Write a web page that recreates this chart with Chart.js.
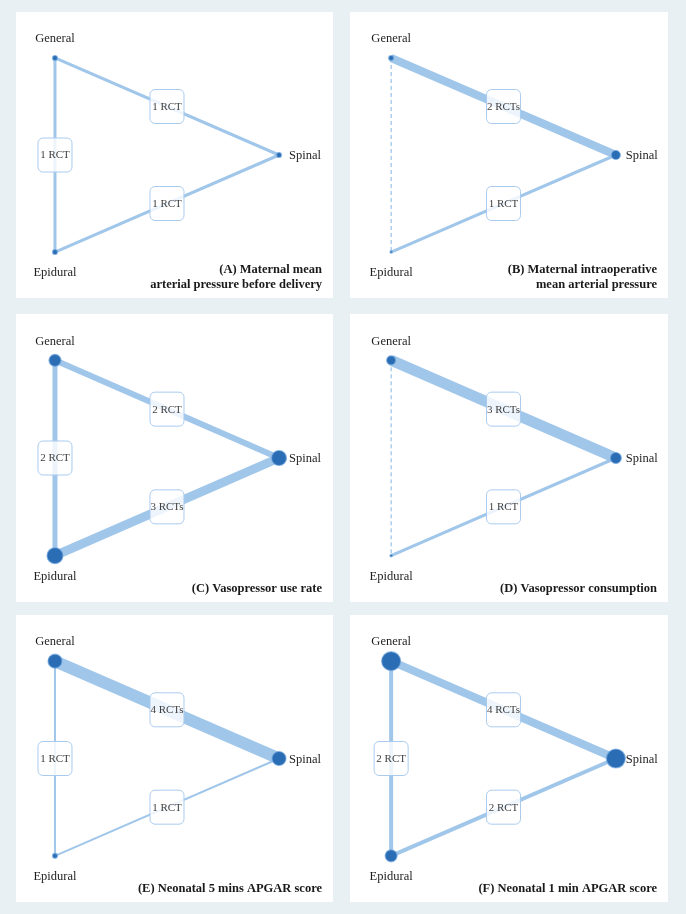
<!DOCTYPE html>
<html>
<head>
<meta charset="utf-8">
<script src="https://cdn.jsdelivr.net/npm/chart.js@4.4.1/dist/chart.umd.min.js"></script>
<style>
  html, body { margin: 0; padding: 0; }
  body { width: 686px; height: 914px; background: #e8f0f3; position: relative; overflow: hidden; }
  .panel { position: absolute; background: #fff; }
  .panel canvas { display: block; }
</style>
</head>
<body>
<div class="panel" style="left:16px;top:12px;"><canvas id="cA" width="317" height="286"></canvas></div>
<div class="panel" style="left:350px;top:12px;"><canvas id="cB" width="318" height="286"></canvas></div>
<div class="panel" style="left:16px;top:314px;"><canvas id="cC" width="317" height="288"></canvas></div>
<div class="panel" style="left:350px;top:314px;"><canvas id="cD" width="318" height="288"></canvas></div>
<div class="panel" style="left:16px;top:615px;"><canvas id="cE" width="317" height="287"></canvas></div>
<div class="panel" style="left:350px;top:615px;"><canvas id="cF" width="318" height="287"></canvas></div>
<script>
// treatments and comparisons (edges: General-Spinal, General-Epidural, Spinal-Epidural)
const nodes = ["General", "Spinal", "Epidural"];
const edges = [["General", "Spinal"], ["General", "Epidural"], ["Spinal", "Epidural"]];

// number of trials per comparison
const trialsA = [1, 1, 1];
const trialsB = [2, 0, 1];
const trialsC = [2, 2, 3];
const trialsD = [3, 0, 1];
const trialsE = [4, 1, 1];
const trialsF = [4, 2, 2];

// label shown on each comparison
const labelsA = ["1 RCT", "1 RCT", "1 RCT"];
const labelsB = ["2 RCTs", "", "1 RCT"];
const labelsC = ["2 RCT", "2 RCT", "3 RCTs"];
const labelsD = ["3 RCTs", "", "1 RCT"];
const labelsE = ["4 RCTs", "1 RCT", "1 RCT"];
const labelsF = ["4 RCTs", "2 RCT", "2 RCT"];

// edge weight (line thickness)
const edgeWeightA = [3, 3, 3];
const edgeWeightB = [8, 1, 3];
const edgeWeightC = [6, 5, 9];
const edgeWeightD = [11, 1, 3];
const edgeWeightE = [12, 2, 2];
const edgeWeightF = [8, 4, 4];

// node weight (General, Spinal, Epidural)
const nodeWeightA = [2.5, 2.5, 2.5];
const nodeWeightB = [2.5, 4.5, 1.2];
const nodeWeightC = [6, 7.5, 8];
const nodeWeightD = [4.5, 5.5, 1.2];
const nodeWeightE = [7, 7, 2.5];
const nodeWeightF = [9.5, 9.5, 6];

const titleA = ["(A) Maternal mean", "arterial pressure before delivery"];
const titleB = ["(B) Maternal intraoperative", "mean arterial pressure"];
const titleC = ["(C) Vasopressor use rate"];
const titleD = ["(D) Vasopressor consumption"];
const titleE = ["(E) Neonatal 5 mins APGAR score"];
const titleF = ["(F) Neonatal 1 min APGAR score"];

// network layout (triangle)
const layout = { General: { x: 0, y: 1 }, Spinal: { x: 1, y: 0 }, Epidural: { x: 0, y: -1 } };

const serif = '"Liberation Serif", "DejaVu Serif", serif';
const edgeColor = "rgba(150, 192, 232, 0.9)";
const nodeColor = "#2a6db5";

const netLabels = {
  id: "netLabels",
  afterDatasetsDraw(chart, args, opts) {
    const ctx = chart.ctx;
    const xs = chart.scales.x, ys = chart.scales.y;
    const px = n => xs.getPixelForValue(layout[n].x);
    const py = n => ys.getPixelForValue(layout[n].y);
    ctx.save();

    // comparison boxes
    ctx.font = "11px " + serif;
    ctx.textAlign = "center";
    ctx.textBaseline = "middle";
    edges.forEach((e, i) => {
      const txt = opts.labels[i];
      if (!txt) return;
      const cx = (px(e[0]) + px(e[1])) / 2;
      const cy = (py(e[0]) + py(e[1])) / 2;
      ctx.beginPath();
      ctx.roundRect(cx - 17, cy - 17, 34, 34, 5);
      ctx.fillStyle = "rgba(255,255,255,0.82)";
      ctx.fill();
      ctx.strokeStyle = "#a9cbee";
      ctx.lineWidth = 1;
      ctx.stroke();
      ctx.fillStyle = "#3f3f3f";
      ctx.fillText(txt, cx, cy + 0.5);
    });

    // node names
    ctx.font = "12.5px " + serif;
    ctx.fillStyle = "#1e1e1e";
    ctx.textAlign = "center";
    ctx.fillText("General", px("General"), py("General") - 19);
    ctx.fillText("Epidural", px("Epidural"), py("Epidural") + 21);
    ctx.textAlign = "left";
    ctx.fillText("Spinal", px("Spinal") + 10, py("Spinal") + 1);

    // panel title
    ctx.font = "bold 12.5px " + serif;
    ctx.fillStyle = "#1a1a1a";
    ctx.textAlign = "right";
    const t = opts.title;
    t.forEach((line, i) => {
      ctx.fillText(line, chart.width - 11, chart.height - 13 - (t.length - 1 - i) * 15);
    });
    ctx.restore();
  }
};

function drawNetwork(id, trials, labels, edgeWeight, nodeWeight, title, xMin) {
  const datasets = [{
    type: "scatter",
    order: 0,
    data: nodes.map(n => ({ x: layout[n].x, y: layout[n].y })),
    pointRadius: nodeWeight,
    pointBackgroundColor: nodeColor,
    pointBorderColor: "rgba(120, 170, 222, 0.7)",
    pointBorderWidth: 1.2
  }];
  edges.forEach((e, i) => {
    const dashed = trials[i] === 0;
    datasets.push({
      type: "line",
      order: 1,
      data: [{ x: layout[e[0]].x, y: layout[e[0]].y }, { x: layout[e[1]].x, y: layout[e[1]].y }],
      borderColor: dashed ? "rgba(120, 170, 222, 0.9)" : edgeColor,
      borderWidth: dashed ? 1 : edgeWeight[i],
      borderDash: dashed ? [4, 3] : [],
      borderCapStyle: "butt",
      pointRadius: 0,
      fill: false
    });
  });

  new Chart(document.getElementById(id), {
    type: "scatter",
    data: { datasets: datasets },
    options: {
      responsive: false,
      animation: false,
      layout: { padding: 0, autoPadding: false },
      plugins: {
        legend: { display: false },
        tooltip: { enabled: false },
        netLabels: { labels: labels, title: title }
      },
      scales: {
        x: { type: "linear", display: false, min: xMin, max: xMin + 1.415 },
        y: { type: "linear", display: false, min: -1.474, max: 1.474 }
      }
    },
    plugins: [netLabels]
  });
}

drawNetwork("cA", trialsA, labelsA, edgeWeightA, nodeWeightA, titleA, -0.174);
drawNetwork("cB", trialsB, labelsB, edgeWeightB, nodeWeightB, titleB, -0.183);
drawNetwork("cC", trialsC, labelsC, edgeWeightC, nodeWeightC, titleC, -0.174);
drawNetwork("cD", trialsD, labelsD, edgeWeightD, nodeWeightD, titleD, -0.183);
drawNetwork("cE", trialsE, labelsE, edgeWeightE, nodeWeightE, titleE, -0.174);
drawNetwork("cF", trialsF, labelsF, edgeWeightF, nodeWeightF, titleF, -0.183);
</script>
</body>
</html>
